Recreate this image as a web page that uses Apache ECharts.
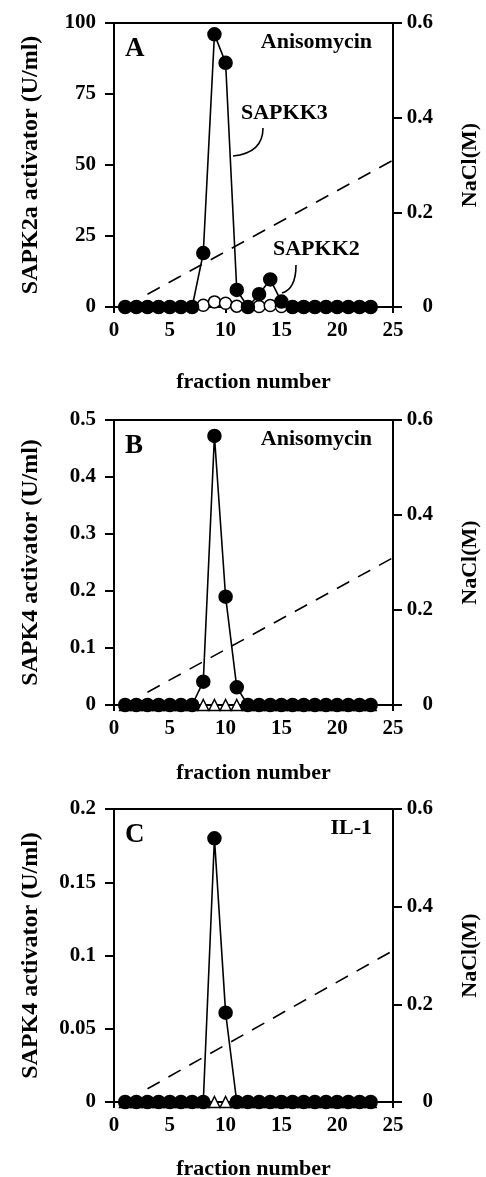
<!DOCTYPE html>
<html>
<head>
<meta charset="utf-8">
<script src="https://cdn.jsdelivr.net/npm/echarts@6/dist/echarts.min.js"></script>
<style>
  html, body { margin: 0; padding: 0; background: #fff; }
  #chart { width: 486px; height: 1177px; }
</style>
</head>
<body>
<div id="chart"></div>
<script>
// fraction numbers (x)
const fractions = [1,2,3,4,5,6,7,8,9,10,11,12,13,14,15,16,17,18,19,20,21,22,23]

// panel A: SAPK2a activator (U/ml), anisomycin
const aFilled = [0,0,0,0,0,0,0,19,96,86,6,0,4.5,9.7,1.9,0,0,0,0,0,0,0,0]
const aOpen   = [0,0,0,0,0,0,0,0.6,1.8,1.3,0.3,0,0.2,0.5,0.2,0,0,0,0,0,0,0,0]
// panel B: SAPK4 activator (U/ml), anisomycin
const bFilled = [0,0,0,0,0,0,0,0.041,0.472,0.19,0.031,0,0,0,0,0,0,0,0,0,0,0,0]
const bTri    = [0,0,0,0,0,0,0,0,0,0,0,0,0,0,0,0,0,0,0,0,0,0,0]
// panel C: SAPK4 activator (U/ml), IL-1
const cFilled = [0,0,0,0,0,0,0,0,0.18,0.061,0,0,0,0,0,0,0,0,0,0,0,0,0]
const cTri    = [0,0,0,0,0,0,0,0,0,0,0,0,0,0,0,0,0,0,0,0,0,0,0]
// NaCl gradient (M), right axis
const naclFrac = [3, 25]
const naclM    = [0.027, 0.31]

const FONT = '"Liberation Serif", "Times New Roman", serif'
const pair = (ys) => fractions.map((f, i) => [f, ys[i]])

const grids = [
  { left: 114, top: 23, width: 279, height: 284 },
  { left: 114, top: 420, width: 279, height: 285 },
  { left: 114, top: 809, width: 279, height: 293 },
]
const leftAxes = [
  { name: 'SAPK2a activator (U/ml)', max: 100, interval: 25 },
  { name: 'SAPK4 activator (U/ml)', max: 0.5, interval: 0.1 },
  { name: 'SAPK4 activator (U/ml)', max: 0.2, interval: 0.05 },
]
const xNameGaps = [64, 57, 56]
const panelText = [['A', 'Anisomycin'], ['B', 'Anisomycin'], ['C', 'IL-1']]

const axLine = { lineStyle: { color: '#000', width: 2 } }
const label = { color: '#000', fontFamily: FONT, fontWeight: 'bold', fontSize: 21 }

const xAxis = grids.map((g, i) => ({
  gridIndex: i, type: 'value', min: 0, max: 25, interval: 5,
  name: 'fraction number', nameLocation: 'middle', nameGap: xNameGaps[i],
  nameTextStyle: { ...label, fontSize: 22 },
  axisLine: axLine, axisTick: { length: 6, lineStyle: { color: '#000', width: 2 } },
  axisLabel: { ...label, margin: 13 }, splitLine: { show: false },
}))

const yAxis = []
leftAxes.forEach((a, i) => {
  yAxis.push({
    gridIndex: i, type: 'value', position: 'left', min: 0, max: a.max, interval: a.interval,
    name: a.name, nameLocation: 'middle', nameGap: 71, nameRotate: 90,
    nameTextStyle: { ...label, fontSize: 24 },
    axisLine: { show: true, ...axLine }, axisTick: { show: true, length: 9, lineStyle: { color: '#000', width: 2 } },
    axisLabel: { ...label, margin: 18 }, splitLine: { show: false },
  })
  yAxis.push({
    gridIndex: i, type: 'value', position: 'right', min: 0, max: 0.6, interval: 0.2,
    name: 'NaCl(M)', nameLocation: 'middle', nameGap: 66, nameRotate: 90,
    nameTextStyle: { ...label, fontSize: 22 },
    axisLine: { show: true, ...axLine }, axisTick: { show: true, length: 9, lineStyle: { color: '#000', width: 2 } },
    axisLabel: { ...label, margin: 40, align: 'right' }, splitLine: { show: false },
  })
})

const lineSeries = (i, data, symbol, size, fill, z) => ({
  type: 'line', xAxisIndex: i, yAxisIndex: i * 2, data: pair(data),
  symbol, symbolSize: size, clip: false, z, animation: false,
  lineStyle: { color: '#000', width: 1.6 },
  itemStyle: { color: fill, borderColor: '#000', borderWidth: 1.5 },
})

const series = []
const openSets = [[aOpen, 'circle', 12], [bTri, 'triangle', 11], [cTri, 'triangle', 11]]
const filledSets = [aFilled, bFilled, cFilled]
for (let i = 0; i < 3; i++) {
  series.push({
    type: 'line', xAxisIndex: i, yAxisIndex: i * 2 + 1,
    data: naclFrac.map((f, k) => [f, naclM[k]]),
    symbol: 'none', animation: false, z: 1,
    lineStyle: { color: '#000', width: 1.6, type: [14, 10] },
  })
  series.push(lineSeries(i, openSets[i][0], openSets[i][1], openSets[i][2], '#fff', 2))
  series.push(lineSeries(i, filledSets[i], 'circle', 13, '#000', 3))
}

const graphic = []
panelText.forEach((p, i) => {
  const g = grids[i]
  graphic.push({ type: 'text', left: g.left + 11, top: g.top + 13,
    style: { text: p[0], font: `bold 27px ${FONT}`, fill: '#000' } })
  graphic.push({ type: 'text', right: 486 - (g.left + g.width) + 21, top: g.top + 8,
    style: { text: p[1], font: `bold 22px ${FONT}`, fill: '#000' } })
})
// annotation labels with leader curves in panel A
graphic.push({ type: 'text', left: 241, top: 102, style: { text: 'SAPKK3', font: `bold 22px ${FONT}`, fill: '#000' } })
graphic.push({ type: 'bezierCurve', shape: { x1: 263, y1: 128, x2: 233, y2: 156, cpx1: 263, cpy1: 153 },
  style: { stroke: '#000', lineWidth: 1.6, fill: null } })
graphic.push({ type: 'text', left: 273, top: 238, style: { text: 'SAPKK2', font: `bold 22px ${FONT}`, fill: '#000' } })
graphic.push({ type: 'bezierCurve', shape: { x1: 296, y1: 265, x2: 282, y2: 293, cpx1: 296, cpy1: 289 },
  style: { stroke: '#000', lineWidth: 1.6, fill: null } })

const chart = echarts.init(document.getElementById('chart'))
chart.setOption({
  backgroundColor: '#fff',
  grid: grids.map(g => ({ ...g, show: true, borderColor: '#000', borderWidth: 2, backgroundColor: 'transparent',
    containLabel: false, outerBoundsMode: 'none' })),
  xAxis, yAxis, series, graphic,
})
</script>
</body>
</html>
